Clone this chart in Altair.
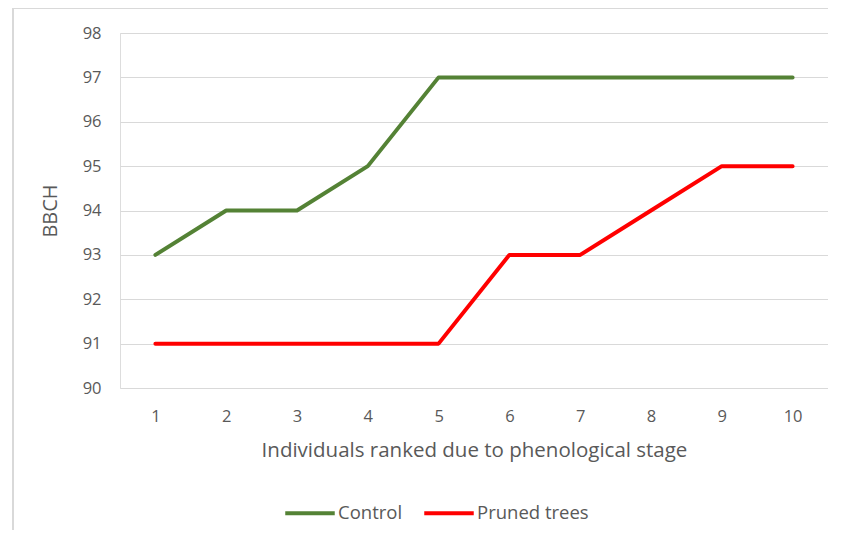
import altair as alt
import pandas as pd

individuals = [1, 2, 3, 4, 5, 6, 7, 8, 9, 10]
control = [93, 94, 94, 95, 97, 97, 97, 97, 97, 97]
pruned = [91, 91, 91, 91, 91, 93, 93, 94, 95, 95]
series_names = ["Control", "Pruned trees"]
series_colors = ["#548235", "#FF0000"]
y_ticks = [90, 91, 92, 93, 94, 95, 96, 97, 98]

df = pd.DataFrame({
    "Individual": individuals * 2,
    "BBCH": control + pruned,
    "Series": [series_names[0]] * len(control) + [series_names[1]] * len(pruned),
})

FONT = "Open Sans"
TXT = "#595959"

lines = alt.Chart(df).mark_line(strokeWidth=4, strokeCap="round", strokeJoin="round").encode(
    x=alt.X("Individual:O", title="Individuals ranked due to phenological stage",
            axis=alt.Axis(labelAngle=0, domain=False, ticks=False, labelPadding=20,
                          titlePadding=16, labelFontSize=16.5, titleFontSize=20.5,
                          labelColor=TXT, titleColor=TXT, labelFont=FONT, titleFont=FONT,
                          titleFontWeight="normal")),
    y=alt.Y("BBCH:Q", title="BBCH", scale=alt.Scale(domain=[90, 98], nice=False, zero=False),
            axis=alt.Axis(values=y_ticks, domain=False, ticks=False, labelPadding=19,
                          gridColor="#d9d9d9", gridWidth=1, labelFontSize=16.5, titleFontSize=20,
                          labelColor=TXT, titleColor=TXT, labelFont=FONT, titleFont=FONT,
                          titleFontWeight="normal", titlePadding=22)),
    color=alt.Color("Series:N", scale=alt.Scale(domain=series_names, range=series_colors),
                    legend=alt.Legend(title=None, orient="none", direction="horizontal",
                                      legendX=163, legendY=453, symbolType="stroke",
                                      symbolSize=2450, symbolStrokeWidth=4,
                                      labelFontSize=18.5, labelColor=TXT, labelFont=FONT,
                                      labelOffset=1, columnPadding=13)),
)

border = alt.Chart(alt.Data(values=[{}])).mark_rect(
    fill=None, stroke="#d9d9d9", strokeWidth=2
).encode(
    x=alt.value(-107), x2=alt.value(720), y=alt.value(-25), y2=alt.value(520)
)

chart = alt.layer(border, lines).properties(
    width=708, height=355,
    autosize=alt.AutoSizeParams(type="none"),
    padding={"left": 112, "top": 25, "right": 0, "bottom": 142},
).configure_view(stroke=None).configure(background="white")

chart.save("out.html", embed_options={"renderer": "svg", "actions": False})
